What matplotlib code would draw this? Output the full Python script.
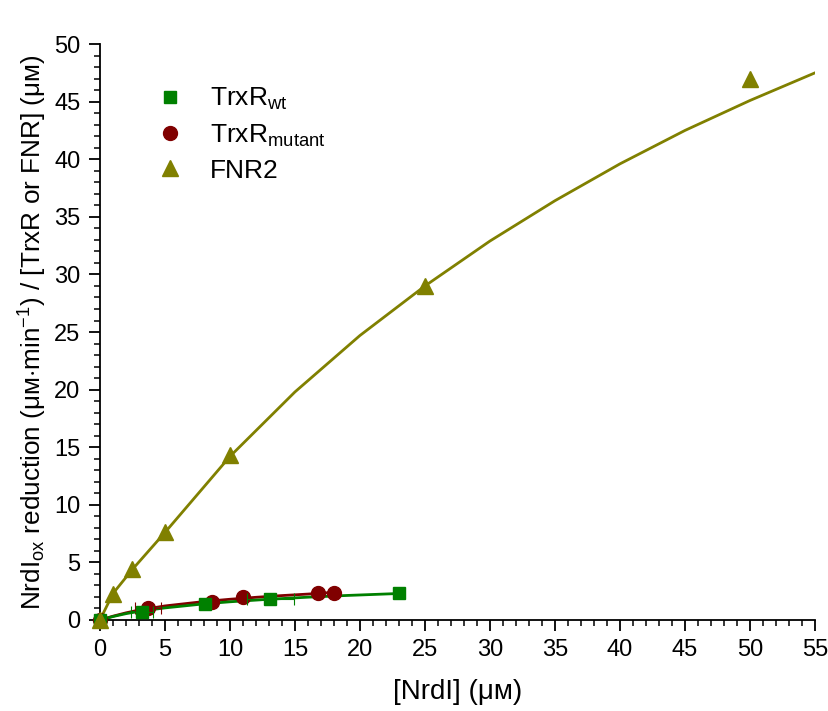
import matplotlib
matplotlib.use("Agg")
import matplotlib.pyplot as plt
import matplotlib.lines as mlines
from matplotlib.ticker import MultipleLocator

plt.rcParams['font.family'] = ['Liberation Sans', 'DejaVu Sans']
plt.rcParams['mathtext.fontset'] = 'custom'
plt.rcParams['mathtext.rm'] = 'Liberation Sans'
plt.rcParams['mathtext.it'] = 'Liberation Sans:italic'

# --- data ---
wt_x = [0, 3.2, 8.1, 13.1, 23.0]
wt_y = [0, 0.72, 1.36, 1.80, 2.37]
wt_xerr = [0, 0.85, 0, 1.8, 0]

mut_x = [0, 3.7, 8.6, 11.0, 16.8, 18.0]
mut_y = [0, 1.07, 1.60, 1.97, 2.32, 2.37]
mut_xerr = [0, 1.0, 0, 0, 0, 0]

fnr_x = [0, 1, 2.5, 5, 10, 25, 50]
fnr_y = [0, 2.3, 4.4, 7.6, 14.3, 29.0, 47.0]

# fitted curves
wt_fit_x = [0, 1, 2, 3, 5, 8, 10, 13, 16, 19, 23]
wt_fit_y = [0, 0.30, 0.55, 0.75, 1.05, 1.40, 1.58, 1.80, 1.98, 2.13, 2.30]
mut_fit_x = [0, 1, 2, 3, 5, 8, 10, 12, 14, 16, 18]
mut_fit_y = [0, 0.33, 0.62, 0.86, 1.22, 1.60, 1.80, 1.97, 2.12, 2.25, 2.40]
fnr_fit_x = [0, 1, 2.5, 5, 10, 15, 20, 25, 30, 35, 40, 45, 50, 55]
fnr_fit_y = [0, 2.3, 4.4, 7.6, 14.2, 19.8, 24.7, 29.0, 32.9, 36.4, 39.6, 42.5, 45.1, 47.5]

x_ticks = [0, 5, 10, 15, 20, 25, 30, 35, 40, 45, 50, 55]
y_ticks = [0, 5, 10, 15, 20, 25, 30, 35, 40, 45, 50]

GREEN = '#008000'
RED = '#800000'
OLIVE = '#808000'

MU = '\u03bc'
SMALL_M = '\u1d0d'

fig = plt.figure(figsize=(8.29, 7.11), dpi=100)
ax = fig.add_axes([0.1206, 0.128, 0.983 - 0.1206, 0.938 - 0.128])

ax.plot(fnr_fit_x, fnr_fit_y, color=OLIVE, lw=2, zorder=2)
ax.plot(mut_fit_x, mut_fit_y, color=RED, lw=2, zorder=2)
ax.plot(wt_fit_x, wt_fit_y, color=GREEN, lw=2, zorder=2)

ax.errorbar(mut_x, mut_y, xerr=mut_xerr, fmt='o', color=RED, ms=10,
            elinewidth=0.8, capsize=4, capthick=0.8, clip_on=False, zorder=3)
ax.errorbar(wt_x, wt_y, xerr=wt_xerr, fmt='s', color=GREEN, ms=9,
            elinewidth=0.8, capsize=4, capthick=0.8, clip_on=False, zorder=4)
ax.plot(fnr_x, fnr_y, '^', color=OLIVE, ms=11.5, clip_on=False, zorder=5)

ax.set_xlim(0, 55)
ax.set_ylim(0, 50)
ax.set_xticks(x_ticks)
ax.set_yticks(y_ticks)
ax.xaxis.set_minor_locator(MultipleLocator(1))
ax.yaxis.set_minor_locator(MultipleLocator(1))
ax.tick_params(which='major', direction='out', length=8, width=1.3, labelsize=17, pad=6)
ax.tick_params(which='minor', direction='out', length=4.5, width=1.1)
for s in ['top', 'right']:
    ax.spines[s].set_visible(False)
for s in ['left', 'bottom']:
    ax.spines[s].set_linewidth(1.3)

ax.set_xlabel('[NrdI] (' + MU + SMALL_M + ')', fontsize=20, labelpad=13)
ylab = ('NrdI$_\\mathregular{ox}$ reduction (' + MU + SMALL_M +
        '$\\cdot$min$^\\mathregular{-1}$) / [TrxR or FNR] (' + MU + SMALL_M + ')')
ax.set_ylabel(ylab, fontsize=18.8)
ax.yaxis.set_label_coords(-0.072, 0.50)

h = [mlines.Line2D([], [], ls='none', marker='s', color=GREEN, ms=9),
     mlines.Line2D([], [], ls='none', marker='o', color=RED, ms=10),
     mlines.Line2D([], [], ls='none', marker='^', color=OLIVE, ms=11.5)]
lab = ['TrxR$_\\mathregular{wt}$', 'TrxR$_\\mathregular{mutant}$', 'FNR2']
ax.legend(h, lab, loc='upper left', bbox_to_anchor=(0.028, 0.968),
          frameon=False, fontsize=19, handletextpad=0.5, labelspacing=0.38)

fig.savefig('out.png', dpi=100)
